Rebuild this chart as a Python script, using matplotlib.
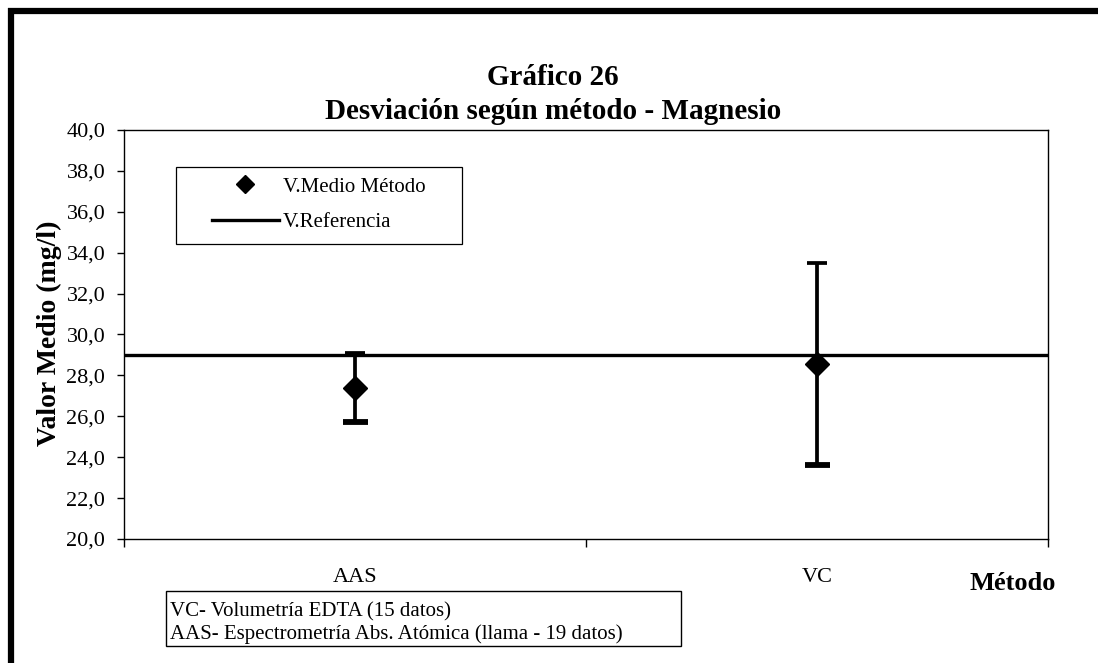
import matplotlib
matplotlib.use("Agg")
import matplotlib.pyplot as plt
from matplotlib.lines import Line2D
from matplotlib.patches import Rectangle

# ---- data ----
categories = ["AAS", "VC"]
mean_values = [27.4, 28.55]
error_half = [1.68, 4.95]
reference_value = 29.0
y_ticks = [20, 22, 24, 26, 28, 30, 32, 34, 36, 38, 40]
y_tick_labels = ["20,0", "22,0", "24,0", "26,0", "28,0", "30,0", "32,0", "34,0", "36,0", "38,0", "40,0"]
title_lines = ["Gráfico 26", "Desviación según método - Magnesio"]
y_label = "Valor Medio (mg/l)"
x_label = "Método"
legend_labels = ["V.Medio Método", "V.Referencia"]
note_lines = ["VC- Volumetría EDTA (15 datos)",
              "AAS- Espectrometría Abs. Atómica (llama - 19 datos)"]

plt.rcParams['font.family'] = ['Liberation Serif', 'DejaVu Serif']

W, H = 1098, 663
fig = plt.figure(figsize=(W / 100, H / 100), dpi=100)


def fx(px):
    return px / W


def fy(py):
    return 1 - py / H


# outer frame (left and top visible)
fig.add_artist(Line2D([fx(11), fx(11)], [fy(8), 0], color='black', lw=4.5,
                      transform=fig.transFigure, solid_capstyle='butt'))
fig.add_artist(Line2D([fx(8), 1], [fy(11), fy(11)], color='black', lw=4.5,
                      transform=fig.transFigure, solid_capstyle='butt'))

ax = fig.add_axes([fx(124), fy(539), fx(1048) - fx(124), fy(130) - fy(539)])
xpos = [i + 0.5 for i in range(len(categories))]
ax.set_xlim(0, len(categories))
ax.set_ylim(y_ticks[0], y_ticks[-1])

upper = [m + e for m, e in zip(mean_values, error_half)]
lower = [m - e for m, e in zip(mean_values, error_half)]

ax.axhline(reference_value, color='black', lw=2.4, zorder=2)
ax.errorbar(xpos, mean_values, yerr=error_half, fmt='none', ecolor='black',
            elinewidth=2.7, capsize=0, zorder=3)
ax.plot(xpos, upper, ls='none', marker='_', ms=15, mew=2.7, color='black', zorder=3)
ax.plot(xpos, lower, ls='none', marker='_', ms=18, mew=4.2, color='black', zorder=3)
ax.plot(xpos, mean_values, 'D', color='black', ms=12, zorder=5)

for s in ax.spines.values():
    s.set_linewidth(1.0)
    s.set_color('black')

ax.set_yticks(y_ticks)
ax.set_yticklabels(y_tick_labels, fontsize=16)
ax.tick_params(axis='y', direction='out', length=5, width=1, pad=8.5)
ax.set_xticks(range(len(categories) + 1))
ax.set_xticklabels([''] * (len(categories) + 1))
ax.tick_params(axis='x', which='major', direction='out', length=6, width=1)
ax.set_xticks(xpos, minor=True)
ax.set_xticklabels(categories, minor=True, fontsize=16)
ax.tick_params(axis='x', which='minor', length=0, pad=21)

# titles and axis labels
fig.text(fx(553), fy(85), title_lines[0], ha='center', va='baseline',
         fontsize=21, fontweight='bold')
fig.text(fx(553), fy(119), title_lines[1], ha='center', va='baseline',
         fontsize=21, fontweight='bold')
fig.text(fx(49), fy(333), y_label, ha='center', va='center', rotation=90,
         fontsize=20, fontweight='bold')
fig.text(fx(1013), fy(583), x_label, ha='center', va='center',
         fontsize=19, fontweight='bold')

# legend
fig.add_artist(Rectangle((fx(176), fy(244)), fx(462) - fx(176), fy(167) - fy(244),
                         transform=fig.transFigure, fill=False, edgecolor='black', lw=0.9))
handles = [Line2D([], [], marker='D', color='black', ls='none', ms=9.5),
           Line2D([], [], color='black', lw=2.4)]
ax.legend(handles, legend_labels, loc='upper left', bbox_to_anchor=(fx(212), fy(177)),
          bbox_transform=fig.transFigure, frameon=False, fontsize=15,
          borderpad=0, borderaxespad=0, handlelength=3.2, handletextpad=0.2,
          labelspacing=0.78)

# note box
t1 = fig.text(fx(170), fy(612), note_lines[0], ha='left', va='center', fontsize=15)
t2 = fig.text(fx(170), fy(634), note_lines[1], ha='left', va='center', fontsize=15)
fig.canvas.draw()
r = fig.canvas.get_renderer()
bb = t2.get_window_extent(r)
right_px = bb.x1 + 58
fig.add_artist(Rectangle((fx(166), fy(646)), right_px / W - fx(166), fy(591) - fy(646),
                         transform=fig.transFigure, fill=False, edgecolor='black', lw=1.0))

fig.savefig("out.png", dpi=100)
